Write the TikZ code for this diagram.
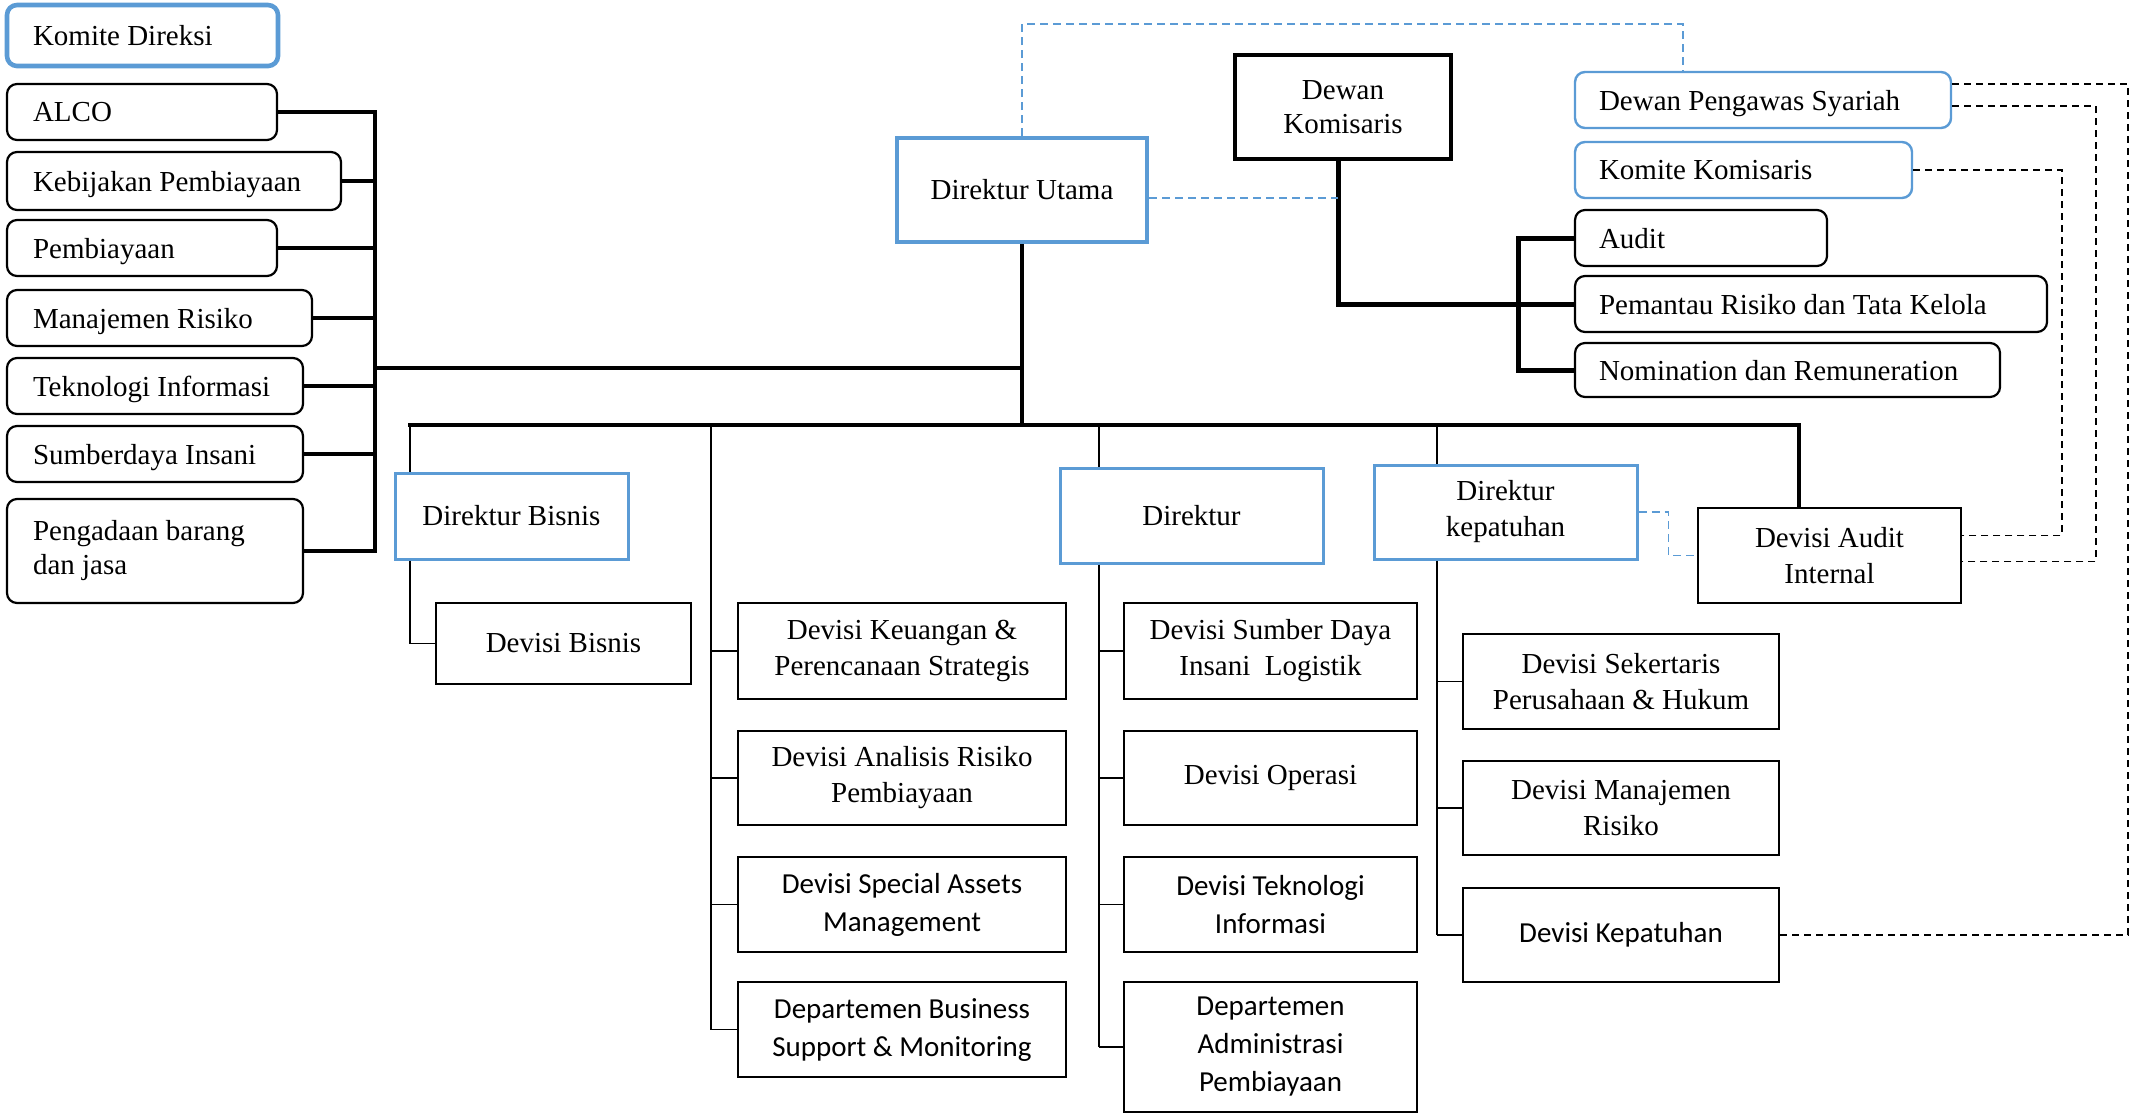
\documentclass[tikz,border=0pt]{standalone}
\usepackage{fontspec}
\setmainfont{Liberation Serif}
\newfontfamily\calib{Carlito}
\usetikzlibrary{calc}
\definecolor{bblue}{HTML}{5B9BD5}
\begin{document}
\begin{tikzpicture}[x=0.5pt,y=-0.5pt,
  tx/.style={font=\fontsize{14.5}{18}\selectfont},
  cal/.style={font=\calib\fontsize{14.5}{19}\selectfont},
  lbox/.style={draw, rounded corners=5pt, line width=1.1pt, inner xsep=13pt, inner ysep=0pt, align=flush left, text depth=0pt, tx},
  rbox/.style={lbox, inner xsep=12pt},
  cbox/.style={draw, line width=1.3pt, inner sep=0pt, align=center, tx},
  dbox/.style={cbox, draw=bblue, line width=1.5pt},
  thk/.style={line width=2pt, line cap=rect},
  thk2/.style={line width=2.5pt, line cap=rect},
  thn/.style={line width=0.75pt},
  bdash/.style={draw=bblue, line width=0.7pt, dash pattern=on 4pt off 2.5pt},
  kdash/.style={line width=0.7pt, dash pattern=on 3.5pt off 2.5pt}]
\useasboundingbox (0,0) rectangle (2134,1115);

% ---- left committee column
\node[lbox, draw=bblue, line width=2.3pt, minimum width=135.5pt, minimum height=30.5pt, text width=109.5pt] (kd) at (142.5,35.5) {Komite Direksi};
\node[lbox, minimum width=135pt, minimum height=28pt, text width=109pt] (alco) at (142,112) {ALCO};
\node[lbox, minimum width=167pt, minimum height=29pt, text width=141pt] (keb) at (174,181) {Kebijakan Pembiayaan};
\node[lbox, minimum width=135pt, minimum height=28pt, text width=109pt] (pem) at (142,248) {Pembiayaan};
\node[lbox, minimum width=152.5pt, minimum height=28pt, text width=126.5pt] (mr) at (159.5,318) {Manajemen Risiko};
\node[lbox, minimum width=148pt, minimum height=28pt, text width=122pt] (ti) at (155,386) {Teknologi Informasi};
\node[lbox, minimum width=148pt, minimum height=28pt, text width=122pt] (sdi) at (155,454) {Sumberdaya Insani};
\node[lbox, text depth=, minimum width=148pt, minimum height=52pt, text width=122pt, font=\fontsize{14.5}{17}\selectfont] (peng) at (155,551) {Pengadaan barang\\dan jasa};

% ---- top
\node[dbox, line width=2pt, minimum width=125pt, minimum height=52pt] (dut) at (1022,190) {Direktur Utama};
\node[cbox, line width=2pt, minimum width=108pt, minimum height=52pt, font=\fontsize{14.5}{17}\selectfont] (dkom) at (1343,107) {Dewan\\Komisaris};
\node[rbox, draw=bblue, line width=1.2pt, minimum width=188pt, minimum height=28pt, text width=164pt] (dps) at (1763,100) {Dewan Pengawas Syariah};
\node[rbox, draw=bblue, line width=1.2pt, minimum width=168.5pt, minimum height=28pt, text width=144.5pt] (kk) at (1743.5,170) {Komite Komisaris};
\node[rbox, minimum width=126pt, minimum height=28pt, text width=102pt] (aud) at (1701,238) {Audit};
\node[rbox, minimum width=236pt, minimum height=28pt, text width=212pt] (prt) at (1811,304) {Pemantau Risiko dan Tata Kelola};
\node[rbox, minimum width=212.5pt, minimum height=27pt, text width=188.5pt] (nom) at (1787.5,370) {Nomination dan Remuneration};

% ---- directors
\node[dbox, minimum width=116.5pt, minimum height=43pt] (dbis) at (511.5,516) {Direktur Bisnis};
\node[dbox, minimum width=131.5pt, minimum height=47.5pt] (dir) at (1191.5,515.5) {Direktur};
\node[dbox, minimum width=131.5pt, minimum height=47pt] (dkep) at (1505.5,512) {Direktur\\kepatuhan};
\node[cbox, line width=1.4pt, minimum width=131.5pt, minimum height=47.5pt] (dai) at (1829.5,555.5) {Devisi Audit\\Internal};

% ---- divisions
\node[cbox, minimum width=127.5pt, minimum height=40.5pt] (devbis) at (563.5,643.5) {Devisi Bisnis};

\node[cbox, minimum width=164pt, minimum height=48pt] (keu) at (902,651) {Devisi Keuangan \&\\Perencanaan Strategis};
\node[cbox, minimum width=164pt, minimum height=47pt] (ana) at (902,778) {Devisi Analisis Risiko\\Pembiayaan};
\node[cbox, cal, minimum width=164pt, minimum height=47.5pt] (sam) at (902,904.5) {Devisi Special Assets\\Management};
\node[cbox, cal, minimum width=164pt, minimum height=47.5pt] (dbs) at (902,1029.5) {Departemen Business\\Support \& Monitoring};

\node[cbox, minimum width=146.5pt, minimum height=48pt] (sdl) at (1270.5,651) {Devisi Sumber Daya\\Insani\ \ Logistik};
\node[cbox, minimum width=146.5pt, minimum height=47pt] (ops) at (1270.5,778) {Devisi Operasi};
\node[cbox, cal, minimum width=146.5pt, minimum height=47.5pt] (tek) at (1270.5,904.5) {Devisi Teknologi\\Informasi};
\node[cbox, cal, minimum width=146.5pt, minimum height=65pt] (adm) at (1270.5,1047) {Departemen\\Administrasi\\Pembiayaan};

\node[cbox, minimum width=158pt, minimum height=47.5pt] (sek) at (1621,681.5) {Devisi Sekertaris\\Perusahaan \& Hukum};
\node[cbox, minimum width=158pt, minimum height=47pt] (mrk) at (1621,808) {Devisi Manajemen\\Risiko};
\node[cbox, cal, minimum width=158pt, minimum height=47pt] (kep) at (1621,935) {Devisi Kepatuhan};

% ---- left bracket
\coordinate (bx) at (375,368);
\foreach \n in {alco,keb,pem,mr,ti,sdi,peng} \draw[thk] (\n.east) -- (\n.east -| bx);
\draw[thk] (alco.east -| bx) -- (peng.east -| bx);
\draw[thk] (bx) -- (bx -| dut.south);

% ---- main line
\coordinate (mL) at (410,425);
\coordinate (mR) at (1799,425);
\draw[thk] (mL) -- (mR);
\draw[line width=1.8pt] (dut.south) -- (dut.south |- mL);
\draw[thk] (mR) -- (mR |- dai.north);

% Direktur Bisnis
\draw[thn] (mL) -- (mL |- dbis.north);
\draw[thn] (mL |- dbis.south) |- (devbis.west);

% column 2
\coordinate (c2) at (711,425);
\draw[thn] (c2) -- (c2 |- dbs.west);
\foreach \n in {keu,ana,sam,dbs} \draw[thn] (c2 |- \n.west) -- (\n.west);

% column 3
\coordinate (c3) at (1099,425);
\draw[thn] (c3) -- (c3 |- dir.north);
\draw[thn] (c3 |- dir.south) -- (c3 |- adm.west);
\foreach \n in {sdl,ops,tek,adm} \draw[thn] (c3 |- \n.west) -- (\n.west);

% column 4
\coordinate (c4) at (1437,425);
\draw[thn] (c4) -- (c4 |- dkep.north);
\draw[thn] (c4 |- dkep.south) -- (c4 |- kep.west);
\foreach \n in {sek,mrk,kep} \draw[thn] (c4 |- \n.west) -- (\n.west);

% Dewan Komisaris bracket
\coordinate (kb) at (1518,304);
\coordinate (dks) at ([xshift=-2.5pt]dkom.south);
\draw[thk2] (dks) |- (kb);
\draw[thk2] (aud.west -| kb) -- (nom.west -| kb);
\foreach \n in {aud,prt,nom} \draw[thk2] (\n.west -| kb) -- (\n.west);

% blue dashed
\coordinate (tp) at (1683,24);
\draw[bdash] (dut.north) |- (tp) -- (tp |- dps.north);
\coordinate (due) at ([yshift=-4pt]dut.east);
\draw[bdash] (due) -- (due -| dks);
\draw[bdash] (dkep.east) -- ++(30,0) |- (dai.west);

% black dashed
\coordinate (r1) at (2128,500);
\coordinate (r2) at (2096,300);
\coordinate (r3) at (2062,300);
\coordinate (dps1) at ([yshift=8pt]dps.east);
\coordinate (dps2) at ([yshift=-3pt]dps.east);
\coordinate (dai1) at ([yshift=10pt]dai.east);
\coordinate (dai2) at ([yshift=-3pt]dai.east);
\draw[kdash] (dps1) -| (r1) |- (kep.east);
\draw[kdash] (dps2) -| (r2) |- (dai2);
\draw[kdash] (kk.east) -| (r3) |- (dai1);
\end{tikzpicture}
\end{document}
